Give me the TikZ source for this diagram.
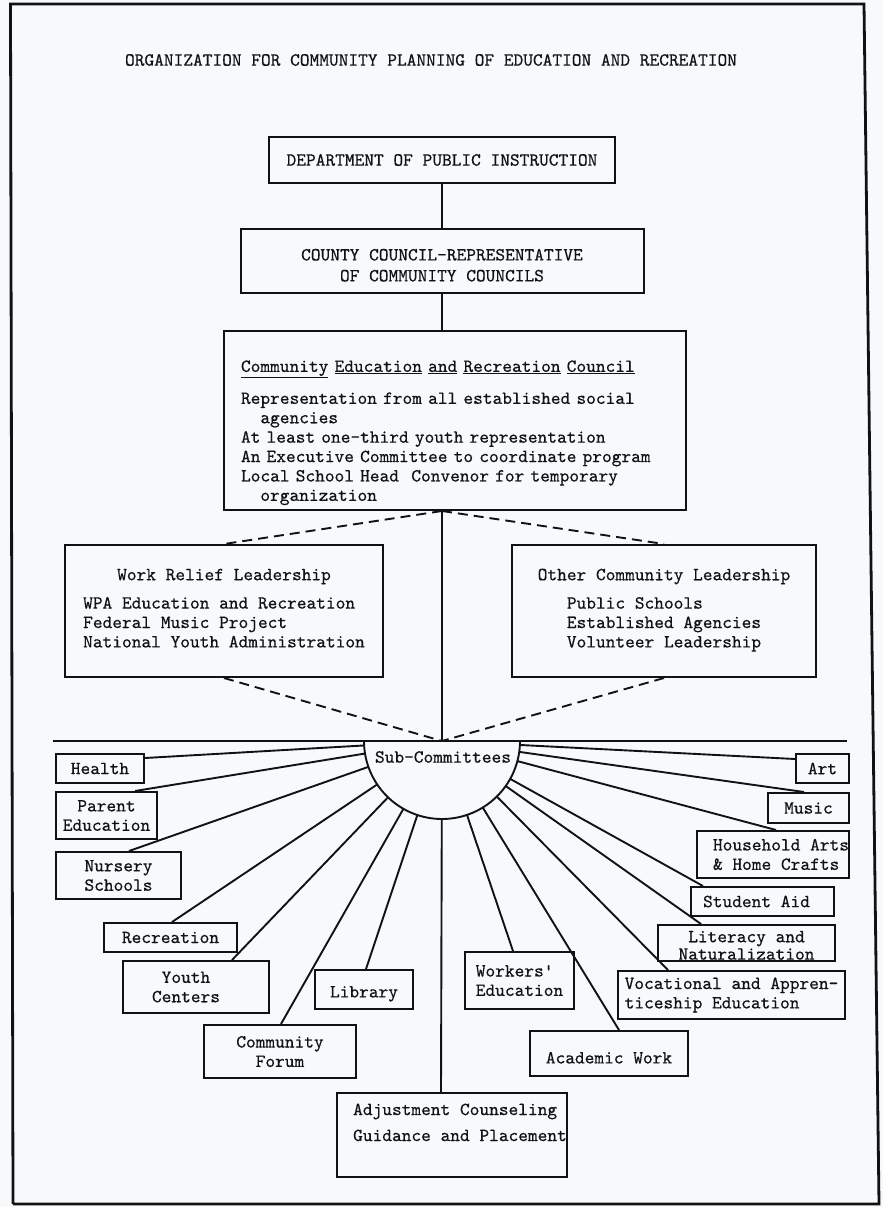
\documentclass[tikz,border=0pt]{standalone}
\usepackage{fontspec}
\setmonofont{lmmono10-regular.otf}[FakeBold=0.5]
\usetikzlibrary{calc}
\definecolor{ink}{RGB}{18,18,22}
\definecolor{bgcol}{RGB}{247,250,251}
\newcommand\mytt{\fontsize{18.5}{19.4}\selectfont\ttfamily}
\begin{document}
\begin{tikzpicture}[x=1pt,y=-1pt,
  box/.style={draw=ink, line width=2pt, inner sep=0pt, align=center, font=\mytt, text=ink},
  sz/.style 2 args={minimum width=#1pt, minimum height=#2pt},
  link/.style={draw=ink, line width=1.9pt},
  dlink/.style={draw=ink, line width=1.9pt, dash pattern=on 10pt off 6pt},
  frame/.style={draw=ink, line width=2.8pt},
  lbl/.style={font=\mytt, text=ink, inner sep=0pt}]
\fill[bgcol] (0,0) rectangle (883,1207);
\useasboundingbox (0,0) rectangle (883,1207);

% page frame
\coordinate (f1) at (10.5,4);
\coordinate (f2) at (864,4);
\coordinate (f3) at (879,1204);
\coordinate (f4) at (13,1204);
\draw[frame] (f4) -- (f1) -- (f2) -- (f3) -- (f4);

% title
\node[lbl] (title) at (431,60) {ORGANIZATION FOR COMMUNITY PLANNING OF EDUCATION AND RECREATION};

% hierarchy
\node[box, sz={346}{46}] (dept) at (442,160) {DEPARTMENT OF PUBLIC INSTRUCTION};
\node[box, sz={403}{64}] (county) at (442,261) {\rule{0pt}{20pt}COUNTY COUNCIL-REPRESENTATIVE\\[1.5pt]OF COMMUNITY COUNCILS};
\node[box, sz={462}{179}, text width=428pt, align=left] (council) at (455,420.5)
 {\rule{0pt}{36pt}\underline{Community} \underline{Education} \underline{and} \underline{Recreation} \underline{Council}\\[12.6pt]
  Representation from all established social\\
  \hspace*{19.4pt}agencies\\
  At least one-third youth representation\\
  An Executive Committee to coordinate program\\
  Local School Head\ \ Convenor for temporary\\
  \hspace*{19.4pt}organization};

\node[box, sz={318}{132}] (wr) at (224,611)
 {Work Relief Leadership\\[9pt]\begin{tabular}[t]{@{}l@{}}WPA Education and Recreation\\Federal Music Project\\National Youth Administration\end{tabular}};
\node[box, sz={304}{132}] (oc) at (664,611)
 {Other Community Leadership\\[9pt]\begin{tabular}[t]{@{}l@{}}Public Schools\\Established Agencies\\Volunteer Leadership\end{tabular}};

\coordinate (C) at (442,741);
\coordinate (hub) at (C |- council.south);
\coordinate (hl) at (53,741);
\coordinate (hr) at (847,741);

\draw[link] (dept.south) -- (county.north);
\draw[link] (county.south) -- (county.south |- council.north);
\draw[link] (hub) -- (C);
\draw[dlink] (hub) -- (wr.north);
\draw[dlink] (hub) -- (oc.north);
\draw[dlink] (wr.south) -- (C);
\draw[dlink] (oc.south) -- (C);
\draw[link] (hl) -- (hr);

% sub-committees hub
\node[lbl] (sc) at (443,757) {Sub-Committees};
\draw[link] (C) ++(-78,0) arc[start angle=180, end angle=360, radius=78pt];

% sub-committee boxes
\node[box, sz={88}{29}]  (health) at (100,768.5) {Health};
\node[box, sz={101}{47}] (pe)  at (106.5,815.5) {Parent\\Education};
\node[box, sz={125}{47}] (ns)  at (118.5,875.5) {Nursery\\Schools};
\node[box, sz={133}{29}] (rec) at (170.5,937.5) {Recreation};
\node[box, sz={146}{52}] (yc)  at (196,987) {Youth\hspace*{20pt}\\Centers\hspace*{20pt}};
\node[box, sz={98}{39}]  (lib) at (364,989.5) {\rule{0pt}{20pt}Library};
\node[box, sz={152}{53}] (cf)  at (280,1051.5) {Community\\Forum};
\node[box, sz={230}{84}, align=left] (adj) at (452,1135)
 {\hspace*{16pt}Adjustment Counseling\\[6.6pt]\hspace*{16pt}Guidance and Placement\\[6pt]\mbox{}};
\node[box, sz={109}{57}, align=left] (we) at (519.5,980.5) {Workers'\\Education};
\node[box, sz={158}{45}] (aw)  at (609,1053.5) {\rule{0pt}{20pt}Academic Work};
\node[box, sz={227}{48}, align=left] (ve) at (731.5,995) {Vocational and Appren-\\ticeship Education};
\node[box, sz={177}{36}] (lit) at (746.5,943) {\rule{0pt}{16pt}Literacy and\\[-2pt]Naturalization};
\node[box, sz={143}{29}] (sa)  at (762.5,901.5) {Student Aid\hspace*{12pt}};
\node[box, sz={152}{47}, align=left] (ha) at (773,854.5) {\hspace*{16pt}Household Arts\\\hspace*{16pt}\& Home Crafts};
\node[box, sz={81}{30}]  (mu)  at (808.5,808) {Music};
\node[box, sz={53}{29}]  (art) at (822.5,768.5) {Art};

% attachment points on the boxes
\coordinate (health-e) at ($(health.north east)+(0,5)$);
\coordinate (pe-e)  at ($(pe.north west)+(80,0)$);
\coordinate (ns-e)  at ($(ns.north west)+(74,0)$);
\coordinate (rec-e) at ($(rec.north west)+(69,0)$);
\coordinate (yc-e)  at ($(yc.north west)+(110,0)$);
\coordinate (cf-e)  at ($(cf.north west)+(78,0)$);
\coordinate (lib-e) at ($(lib.north west)+(52,0)$);
\coordinate (adj-e) at ($(adj.north west)+(105,0)$);
\coordinate (we-e)  at ($(we.north west)+(49,0)$);
\coordinate (aw-e)  at ($(aw.north west)+(90,0)$);
\coordinate (ve-e)  at ($(ve.north west)+(51,0)$);
\coordinate (lit-e) at ($(lit.north west)+(44,0)$);
\coordinate (sa-e)  at ($(sa.north west)+(13,0)$);
\coordinate (ha-e)  at ($(ha.north west)+(80,0)$);
\coordinate (mu-e)  at ($(mu.north west)+(37,0)$);
\coordinate (art-e) at ($(art.north west)+(0,6)$);

\foreach \p in {health-e,pe-e,ns-e,rec-e,yc-e,cf-e,lib-e,adj-e,we-e,aw-e,ve-e,lit-e,sa-e,ha-e,mu-e,art-e}
  \draw[link] ($(C)!78pt!(\p)$) -- (\p);
\end{tikzpicture}
\end{document}
